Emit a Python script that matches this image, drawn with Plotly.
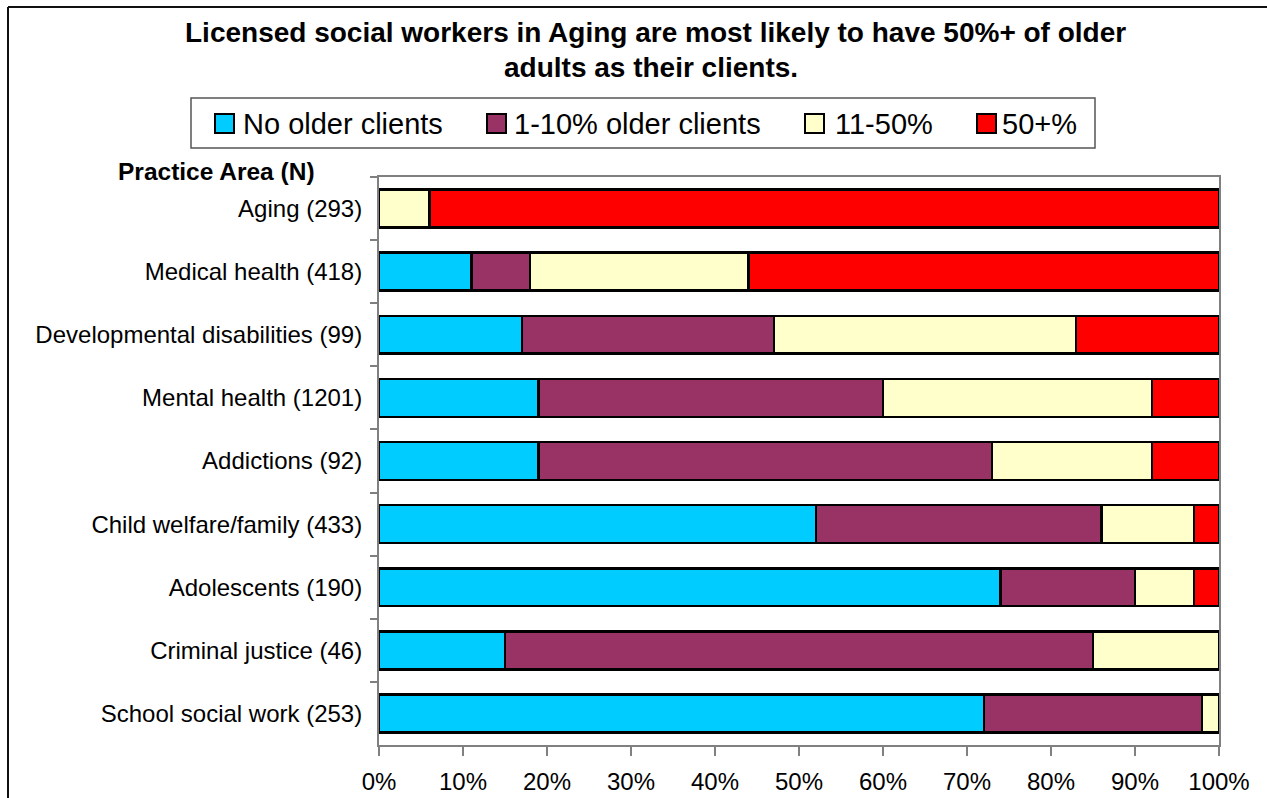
import plotly.graph_objects as go

# Practice areas, top to bottom, with sample sizes
areas = [
    "Aging (293)",
    "Medical health (418)",
    "Developmental disabilities (99)",
    "Mental health (1201)",
    "Addictions (92)",
    "Child welfare/family (433)",
    "Adolescents (190)",
    "Criminal justice (46)",
    "School social work (253)",
]

# Share of each area's workers by proportion of older-adult clients (%)
no_older = [0, 11, 17, 19, 19, 52, 74, 15, 72]
pct_1_10 = [0, 7, 30, 41, 54, 34, 16, 70, 26]
pct_11_50 = [6, 26, 36, 32, 19, 11, 7, 15, 2]
pct_50_plus = [94, 56, 17, 8, 8, 3, 3, 0, 0]

series_names = ["No older clients", "1-10% older clients", "11-50%", "50+%"]
series_values = [no_older, pct_1_10, pct_11_50, pct_50_plus]
series_colors = ["#00CCFF", "#993366", "#FFFFCC", "#FF0000"]

x_ticks = list(range(0, 101, 10))

FONT = "Arial, Liberation Sans, sans-serif"
W, H = 1267, 798
L, R, T, B = 379, 48, 177, 53
PW, PH = W - L - R, H - T - B


def px_x(px):
    return (px - L) / PW


def px_y(py):
    return (H - B - py) / PH


fig = go.Figure()
for name, vals, color in zip(series_names, series_values, series_colors):
    fig.add_trace(go.Bar(
        y=areas,
        x=[v if v else None for v in vals],
        name=name,
        orientation="h",
        marker=dict(color=color, line=dict(color="black", width=2.5)),
        showlegend=False,
    ))

shapes = []
annotations = []

# Outer frame (top and left edges)
shapes.append(dict(type="line", xref="paper", yref="paper",
                   x0=px_x(8), x1=px_x(W + 5), y0=px_y(7), y1=px_y(7),
                   line=dict(color="#111", width=2)))
shapes.append(dict(type="line", xref="paper", yref="paper",
                   x0=px_x(8), x1=px_x(8), y0=px_y(7), y1=px_y(H + 5),
                   line=dict(color="#111", width=2)))

# Legend box
shapes.append(dict(type="rect", xref="paper", yref="paper",
                   x0=px_x(191), x1=px_x(1095), y0=px_y(98), y1=px_y(148),
                   line=dict(color="#555", width=1.5), fillcolor="white", layer="below"))
square_left = [215, 487, 805, 977]
text_left = [241, 512, 833, 1000]
for name, color, sx, tx in zip(series_names, series_colors, square_left, text_left):
    shapes.append(dict(type="rect", xref="paper", yref="paper",
                       x0=px_x(sx), x1=px_x(sx + 19), y0=px_y(114), y1=px_y(133),
                       line=dict(color="black", width=2), fillcolor=color))
    annotations.append(dict(xref="paper", yref="paper", x=px_x(tx), y=px_y(124),
                            xanchor="left", yanchor="middle", showarrow=False,
                            text=name, font=dict(family=FONT, size=29, color="black")))

# Title lines
annotations.append(dict(xref="paper", yref="paper", x=px_x(655), y=px_y(33),
                        xanchor="center", yanchor="middle", showarrow=False,
                        text="<b>Licensed social workers in Aging are most likely to have 50%+ of older</b>",
                        font=dict(family=FONT, size=28, color="black")))
annotations.append(dict(xref="paper", yref="paper", x=px_x(651), y=px_y(68),
                        xanchor="center", yanchor="middle", showarrow=False,
                        text="<b>adults as their clients.</b>",
                        font=dict(family=FONT, size=28, color="black")))

# Axis heading for the categories
annotations.append(dict(xref="paper", yref="paper", x=px_x(216), y=px_y(172),
                        xanchor="center", yanchor="middle", showarrow=False,
                        text="<b>Practice Area (N)</b>",
                        font=dict(family=FONT, size=24.5, color="black")))

fig.update_layout(
    width=W, height=H,
    margin=dict(l=L, r=R, t=T, b=B, pad=0, autoexpand=False),
    barmode="stack",
    bargap=0.4,
    plot_bgcolor="white",
    paper_bgcolor="white",
    font=dict(family=FONT, size=24, color="black"),
    shapes=shapes,
    annotations=annotations,
    showlegend=False,
)
fig.update_xaxes(
    range=[0, 100],
    tickvals=x_ticks,
    ticktext=[f"{t}%" for t in x_ticks],
    ticks="outside", ticklen=9, tickcolor="#808080", tickwidth=1.5,
    showline=True, linecolor="#808080", linewidth=2, mirror=True,
    showgrid=False, zeroline=False,
    automargin=False,
    ticklabelstandoff=5,
    tickfont=dict(family=FONT, size=24, color="black"),
)
fig.update_yaxes(
    autorange="reversed",
    categoryorder="array", categoryarray=areas,
    tickson="boundaries",
    ticks="outside", ticklen=7, tickcolor="#808080", tickwidth=1.5,
    showline=True, linecolor="#808080", linewidth=2, mirror=True,
    showgrid=False,
    automargin=False,
    ticklabelstandoff=10,
    tickfont=dict(family=FONT, size=24, color="black"),
)

fig.write_html("out.html")
